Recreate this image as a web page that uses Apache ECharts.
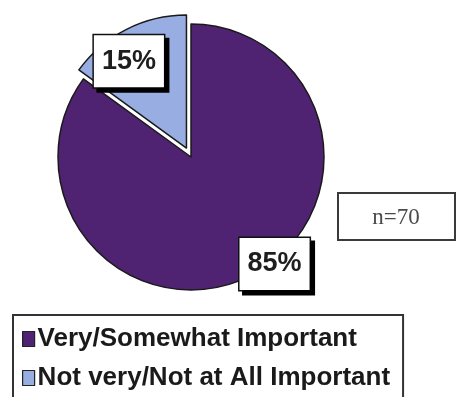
<!DOCTYPE html>
<html>
<head>
<meta charset="utf-8">
<script src="https://cdn.jsdelivr.net/npm/echarts@6/dist/echarts.min.js"></script>
<style>
html,body{margin:0;padding:0;background:#fff;}
#chart{width:456px;height:397px;}
</style>
</head>
<body>
<div id="chart"></div>
<script>
var categories = ['Very/Somewhat Important', 'Not very/Not at All Important'];
var percentValues = [85, 15];
var sliceColors = ['#4f2272', '#98aee2'];
var sampleNote = 'n=70';
var labelShift = [[52, 45], [-26, -25]];

var chart = echarts.init(document.getElementById('chart'), null, {renderer: 'canvas'});
var option = {
  animation: false,
  backgroundColor: '#ffffff',
  legend: {
    orient: 'vertical',
    left: 13,
    top: 315,
    height: 200,
    data: categories,
    icon: 'rect',
    itemWidth: 12,
    itemHeight: 15,
    itemGap: 13,
    padding: [11, 13, 12, 9],
    backgroundColor: '#ffffff',
    borderColor: '#333333',
    borderWidth: 2,
    borderRadius: 0,
    selectedMode: false,
    itemStyle: {borderColor: '#222222', borderWidth: 1.2},
    textStyle: {
      fontFamily: '"Liberation Sans", Arial, sans-serif',
      fontWeight: 'bold',
      fontSize: 26,
      lineHeight: 26,
      color: '#1a1a1a',
      padding: [0, 0, 0, -2]
    }
  },
  graphic: [{
    type: 'group',
    left: 337,
    top: 192,
    children: [{
      type: 'rect',
      shape: {x: 0, y: 0, width: 117, height: 47},
      style: {fill: '#ffffff', stroke: '#3a3a3a', lineWidth: 2}
    }, {
      type: 'text',
      x: 58,
      y: 25,
      style: {
        text: sampleNote,
        fill: '#4a4a4a',
        font: '23px "Liberation Serif", "Times New Roman", serif',
        align: 'center',
        verticalAlign: 'middle'
      }
    }]
  }],
  series: [{
    type: 'pie',
    center: [191, 157],
    radius: [0, 133],
    startAngle: 90,
    clockwise: true,
    selectedMode: 'single',
    selectedOffset: 10,
    avoidLabelOverlap: false,
    emphasis: {disabled: true},
    itemStyle: {borderColor: '#1a1a1a', borderWidth: 1.5},
    label: {
      show: true,
      position: 'inside',
      formatter: '{c}%',
      fontFamily: '"Liberation Sans", Arial, sans-serif',
      fontWeight: 'bold',
      fontSize: 27,
      lineHeight: 30,
      color: '#1e1e1e',
      backgroundColor: '#ffffff',
      borderColor: '#111111',
      borderWidth: 1.5,
      padding: [11, 8, 11, 8],
      shadowColor: '#000000',
      shadowBlur: 0,
      shadowOffsetX: 4,
      shadowOffsetY: 4
    },
    labelLine: {show: false},
    labelLayout: function (params) {
      var s = labelShift[params.dataIndex];
      return {dx: s[0], dy: s[1]};
    },
    data: categories.map(function (name, i) {
      return {
        name: name,
        value: percentValues[i],
        selected: i === 1,
        itemStyle: {color: sliceColors[i]}
      };
    })
  }]
};
chart.setOption(option);
</script>
</body>
</html>
